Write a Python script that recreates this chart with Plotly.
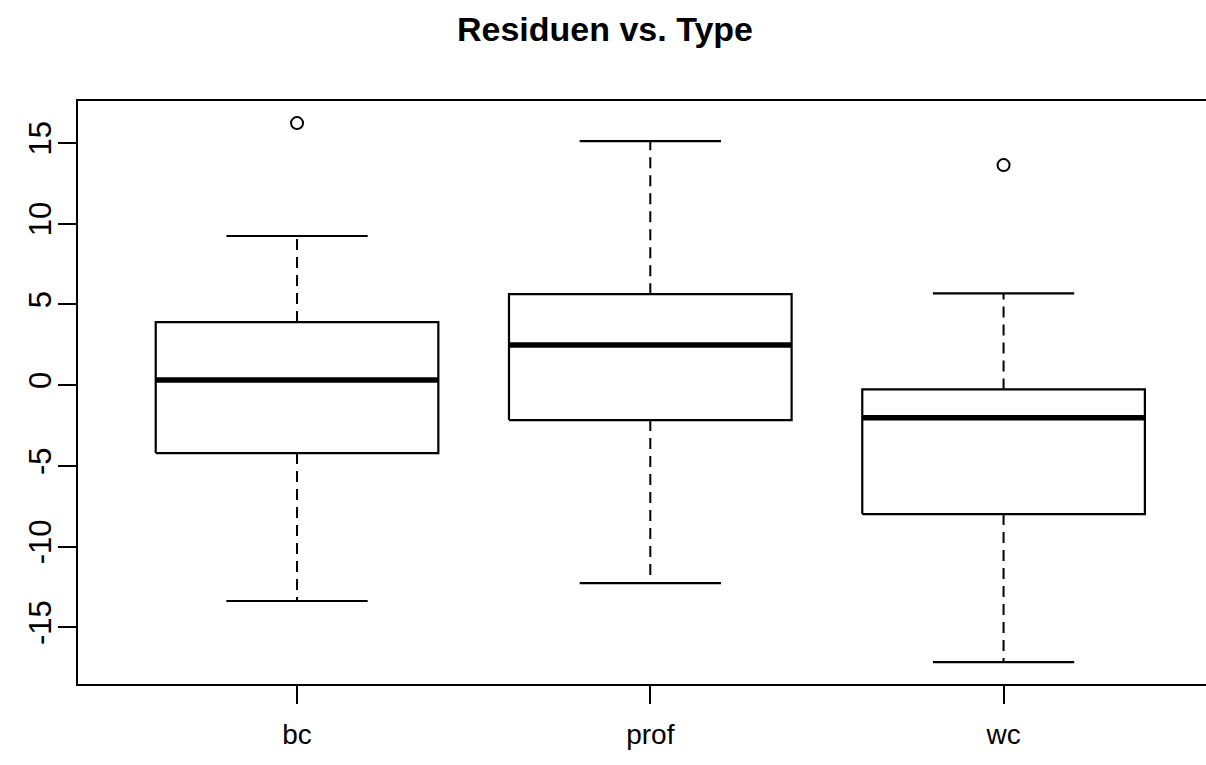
import plotly.graph_objects as go

categories = ["bc", "prof", "wc"]
lower_whisker = [-13.37, -12.26, -17.15]
q1 = [-4.21, -2.17, -7.99]
median = [0.31, 2.48, -2.02]
q3 = [3.90, 5.63, -0.27]
upper_whisker = [9.23, 15.11, 5.68]
outliers = [[16.22], [], [13.62]]

y_ticks = [-15, -10, -5, 0, 5, 10, 15]

positions = [1, 2, 3]
half_box = 0.4
half_staple = 0.2

box_x, box_y = [], []
med_x, med_y = [], []
wh_x, wh_y = [], []
st_x, st_y = [], []
out_x, out_y = [], []
for p, lo, a, m, b, hi, outs in zip(positions, lower_whisker, q1, median, q3, upper_whisker, outliers):
    box_x += [p - half_box, p + half_box, p + half_box, p - half_box, p - half_box, None]
    box_y += [a, a, b, b, a, None]
    med_x += [p - half_box, p + half_box, None]
    med_y += [m, m, None]
    wh_x += [p, p, None, p, p, None]
    wh_y += [b, hi, None, a, lo, None]
    st_x += [p - half_staple, p + half_staple, None, p - half_staple, p + half_staple, None]
    st_y += [hi, hi, None, lo, lo, None]
    for o in outs:
        out_x.append(p)
        out_y.append(o)

fig = go.Figure()
fig.add_trace(go.Scatter(x=wh_x, y=wh_y, mode="lines",
                         line=dict(color="black", width=2, dash="11px,7px"),
                         hoverinfo="skip", showlegend=False))
fig.add_trace(go.Scatter(x=st_x, y=st_y, mode="lines",
                         line=dict(color="black", width=2.2),
                         hoverinfo="skip", showlegend=False))
fig.add_trace(go.Scatter(x=box_x, y=box_y, mode="lines",
                         line=dict(color="black", width=2.2),
                         hoverinfo="skip", showlegend=False))
fig.add_trace(go.Scatter(x=med_x, y=med_y, mode="lines",
                         line=dict(color="black", width=5.5),
                         hoverinfo="skip", showlegend=False))
fig.add_trace(go.Scatter(x=out_x, y=out_y, mode="markers",
                         marker=dict(symbol="circle-open", size=12, color="black",
                                     line=dict(width=2, color="black")),
                         showlegend=False))

fig.update_layout(
    width=1206, height=765,
    margin=dict(l=78, r=0, t=101, b=81),
    paper_bgcolor="white", plot_bgcolor="white",
    font=dict(family="Liberation Sans, Arial, sans-serif", color="black", size=28),
    title=dict(text="<b>Residuen vs. Type</b>", x=605/1206, xref="container", xanchor="center",
               y=0.962, yref="container", yanchor="middle",
               font=dict(size=34, family="Liberation Sans, Arial, sans-serif", color="black")),
    xaxis=dict(range=[0.38, 3.573], tickmode="array", tickvals=positions, ticktext=categories,
               ticks="outside", ticklen=18, tickwidth=2, tickcolor="black",
               showline=True, linecolor="black", linewidth=2.2, mirror=True,
               showgrid=False, zeroline=False, ticklabelstandoff=6,
               tickfont=dict(size=28)),
    yaxis=dict(range=[-18.51, 17.59], tickmode="array", tickvals=y_ticks,
               ticktext=[str(v) for v in y_ticks],
               ticks="outside", ticklen=18, tickwidth=2, tickcolor="black",
               showline=True, linecolor="black", linewidth=2.2, mirror=False,
               showgrid=False, zeroline=False, tickangle=-90, ticklabelstandoff=-5,
               tickfont=dict(size=31)),
)

fig.write_html("out.html")
